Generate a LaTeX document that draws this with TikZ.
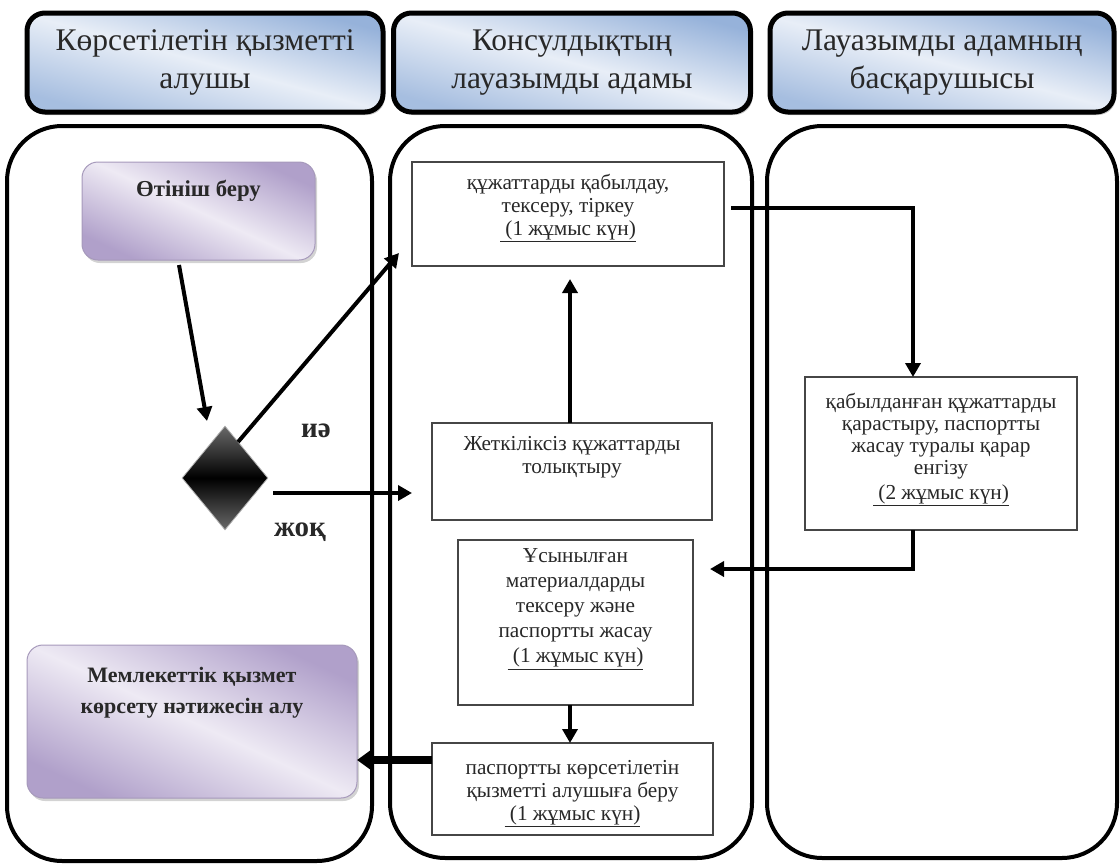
\documentclass[tikz,border=0pt]{standalone}
\usepackage{fontspec}
\setmainfont{Liberation Serif}
\usetikzlibrary{arrows.meta,shadows,shapes.geometric}
\definecolor{hdrblue}{RGB}{150,178,218}
\definecolor{hdrlight}{RGB}{232,238,247}
\definecolor{lilac}{RGB}{176,160,202}
\definecolor{lilaclight}{RGB}{238,234,244}
\definecolor{inkgray}{RGB}{40,40,40}
\definecolor{diamgray}{RGB}{105,105,105}
% text block of fixed size, set from the top with a given padding
\newcommand\cellbody[4]{\parbox[c][#2pt][t]{#1pt}{\centering\vspace*{#3pt}#4\par}}
\newcommand\daysnote[1]{\underline{\ (#1 жұмыс күн)}}
\begin{document}
\begin{tikzpicture}[x=1pt,y=-1pt,
  header/.style={draw=black, line width=5pt, rounded corners=18pt, inner sep=0pt,
    top color=hdrblue, bottom color=hdrblue!85, middle color=hdrlight, shading angle=-15,
    drop shadow={shadow xshift=2pt, shadow yshift=-3pt, opacity=0.45},
    align=center, font=\fontsize{31.5}{38}\selectfont, text=inkgray},
  lane/.style={draw=black, line width=4pt, rounded corners=55pt, inner sep=0pt},
  stepbox/.style={draw=gray!55!black, line width=1.4pt, fill=white, inner sep=0pt,
    font=\fontsize{21.3}{23}\selectfont, text=inkgray},
  softbox/.style={draw=lilac!80!gray, line width=1pt, rounded corners=16pt, inner sep=0pt,
    top color=lilac, bottom color=lilac, middle color=lilaclight, shading angle=-25,
    drop shadow={shadow xshift=2pt, shadow yshift=-3pt, opacity=0.35},
    text=inkgray},
  decision/.style={diamond, draw=gray!60, line width=0.8pt, inner sep=0pt,
    minimum width=86pt, minimum height=104pt,
    top color=diamgray, bottom color=diamgray, middle color=black},
  flow/.style={line width=4pt, -{Triangle[length=14pt,width=15pt]}},
  bigflow/.style={line width=8pt, -{Triangle[length=16pt,width=22pt]}},
  tag/.style={font=\bfseries\fontsize{29}{32}\selectfont, text=inkgray}
]
\useasboundingbox (0,0) rectangle (1120,865);

% swimlane headers
\node[header, minimum width=356pt, minimum height=99pt] (h1) at (205,62.5)
  {Көрсетілетін қызметті\\алушы};
\node[header, minimum width=357pt, minimum height=99pt] (h2) at (572,62.5)
  {Консулдықтың\\лауазымды адамы};
\node[header, minimum width=344pt, minimum height=99pt] (h3) at (942,62.5)
  {Лауазымды адамның\\басқарушысы};

% swimlanes
\node[lane, minimum width=365pt, minimum height=735pt] (lane1) at (189.5,493.5) {};
\node[lane, minimum width=362pt, minimum height=732pt] (lane2) at (571,492) {};
\node[lane, minimum width=350pt, minimum height=732pt] (lane3) at (942,492) {};

% applicant lane
\node[softbox] (apply) at (198.5,211)
  {\cellbody{233}{98}{18}{\bfseries\fontsize{22.8}{26}\selectfont Өтініш беру}};
\node[softbox] (result) at (192,721.5)
  {\cellbody{330}{153}{22}{\bfseries\fontsize{22}{31}\selectfont Мемлекеттік қызмет\\көрсету нәтижесін алу}};
\node[decision] (dec) at (225,478) {};
\node[tag] (yes) at (316,431) {иә};
\node[tag] (no) at (300,532) {жоқ};

% consulate officer lane
\node[stepbox] (b1) at (568,214)
  {\cellbody{312}{104}{12}{құжаттарды қабылдау,\\тексеру, тіркеу\\\daysnote{1}}};
\node[stepbox] (b2) at (572,471.5)
  {\cellbody{280}{97}{13}{Жеткіліксіз құжаттарды\\толықтыру}};
\node[stepbox] (b3) at (575.5,622.5)
  {\cellbody{235}{165}{9}{\fontsize{21.3}{25}\selectfont Ұсынылған\\материалдарды\\тексеру және\\паспортты жасау\\\daysnote{1}}};
\node[stepbox] (b4) at (572.5,789)
  {\cellbody{281}{92}{17}{паспортты көрсетілетін\\қызметті алушыға беру\\\daysnote{1}}};

% head of the officer lane
\node[stepbox] (b5) at (941,453.5)
  {\cellbody{272}{153}{16}{\fontsize{21.3}{22}\selectfont қабылданған құжаттарды\\қарастыру, паспортты\\жасау туралы қарар\\енгізу\\[3pt]\daysnote{2}}};

% connector ends
\coordinate (applyOut) at (179,265);
\coordinate (decIn) at (207,421);
\coordinate (decUp) at (238,442);
\coordinate (b1In) at (399,253);
\coordinate (decRight) at (273,493);
\coordinate (b2In) at (412,493);
\coordinate (b2Up) at (570,423);
\coordinate (b1Low) at (570,279);
\coordinate (b1Out) at (731,208);
\coordinate (turnA) at (913,208);
\coordinate (b5Top) at (913,377);
\coordinate (b5Low) at (913,530);
\coordinate (turnB) at (913,569);
\coordinate (b3In) at (710,569);
\coordinate (b3Low) at (570,705);
\coordinate (b4Top) at (570,743);
\coordinate (b4Out) at (432,760);
\coordinate (resultIn) at (357,760);

% connectors
\draw[flow] (applyOut) -- (decIn);
\draw[flow] (decUp) -- (b1In);
\draw[flow] (decRight) -- (b2In);
\draw[flow] (b2Up) -- (b1Low);
\draw[flow] (b1Out) -- (turnA) -- (b5Top);
\draw[flow] (b5Low) -- (turnB) -- (b3In);
\draw[flow] (b3Low) -- (b4Top);
\draw[bigflow] (b4Out) -- (resultIn);
\end{tikzpicture}
\end{document}
